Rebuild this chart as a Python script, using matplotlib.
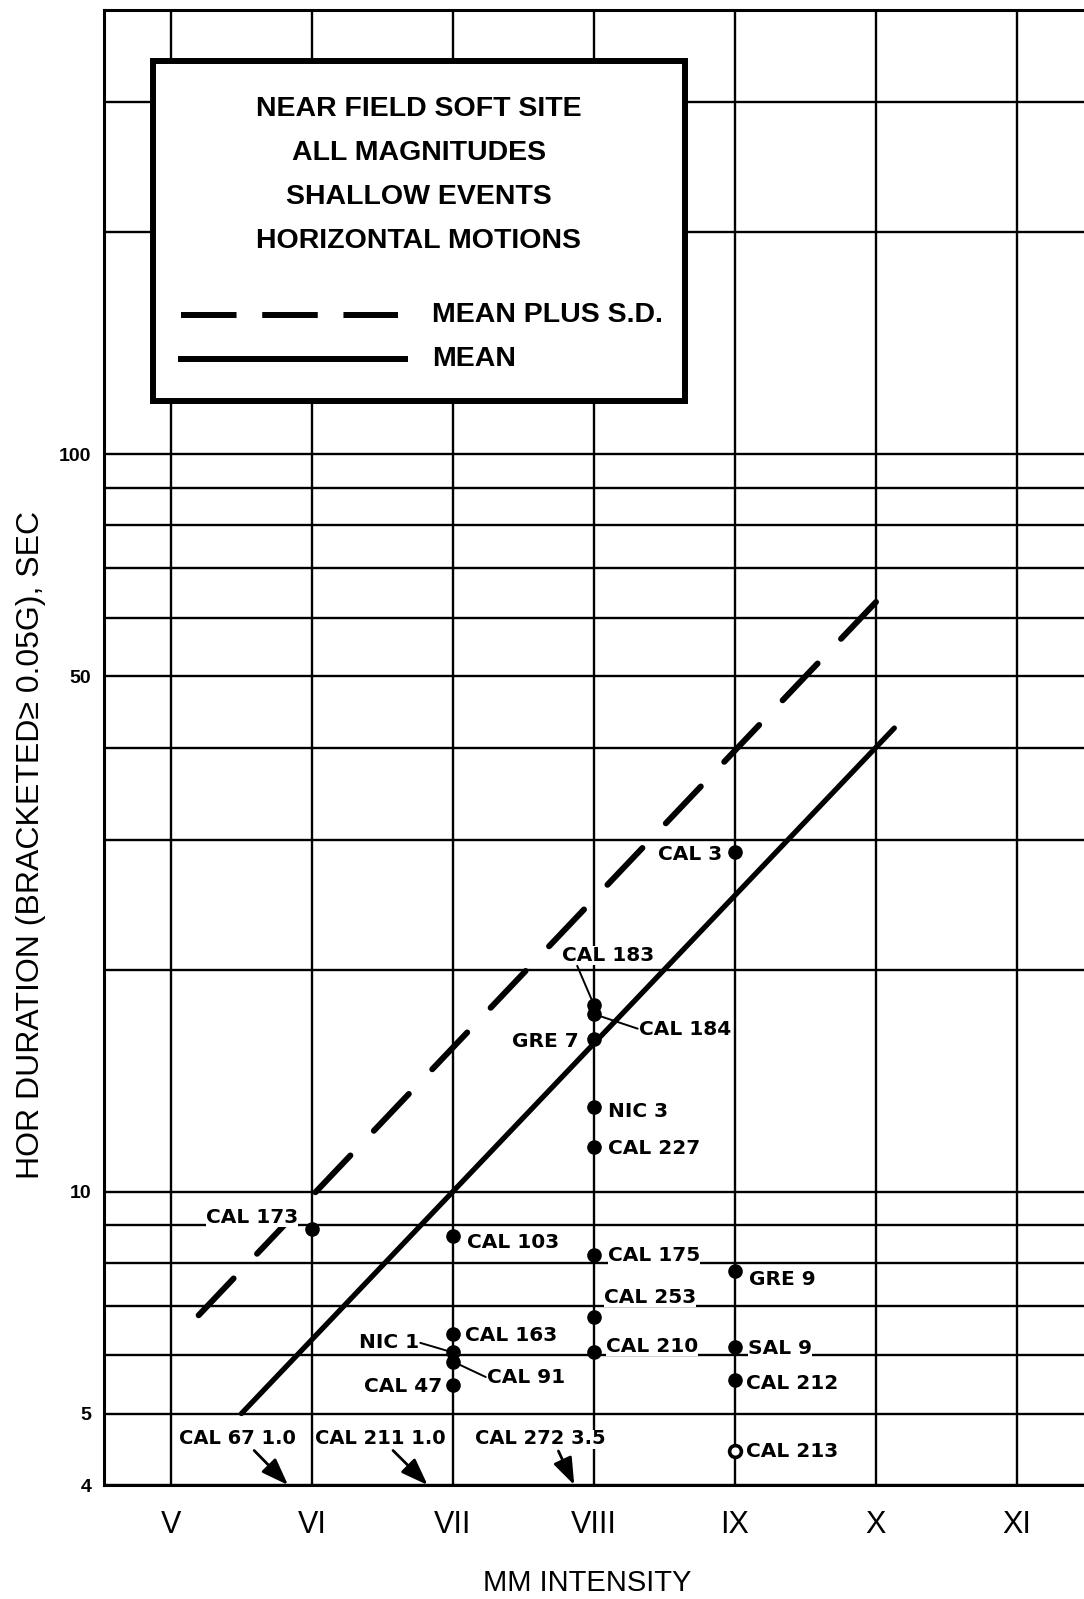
import numpy as np
import matplotlib
matplotlib.use("Agg")
import matplotlib.pyplot as plt
from matplotlib.lines import Line2D
from matplotlib.patches import Rectangle
from matplotlib.ticker import FixedLocator, FuncFormatter

# MM intensity axis
roman = ["V", "VI", "VII", "VIII", "IX", "X", "XI"]
mmi_ticks = [5, 6, 7, 8, 9, 10, 11]

# recorded events: station, MM intensity, bracketed duration (sec)
names = ["CAL 173", "CAL 103", "CAL 163", "NIC 1", "CAL 91", "CAL 47",
         "CAL 183", "CAL 184", "GRE 7", "NIC 3", "CAL 227", "CAL 175",
         "CAL 253", "CAL 210", "CAL 3", "GRE 9", "SAL 9", "CAL 212", "CAL 213"]
mmi = [6, 7, 7, 7, 7, 7, 8, 8, 8, 8, 8, 8, 8, 8, 9, 9, 9, 9, 9]
dur = [8.9, 8.7, 6.4, 6.05, 5.88, 5.47, 17.9, 17.4, 16.1, 13.0, 11.5, 8.2,
       6.75, 6.05, 28.9, 7.8, 6.15, 5.55, 4.45]
open_marks = ["CAL 213"]

# events below the plotted range
low_names = ["CAL 67", "CAL 211", "CAL 272"]
low_mmi = [6, 7, 8]
low_dur = [1.0, 1.0, 3.5]

# fitted lines (end points)
mean_mmi = [5.5, 10.13]
mean_dur = [5.0, 42.5]
sd_mmi = [5.05, 10.0]
sd_dur = [6.35, 63.0]

# y grid / labelled ticks
grid_y = [4, 5, 6, 7, 8, 9, 10, 20, 30, 40, 50, 60, 70, 80, 90, 100, 200, 300]
label_y = [4, 5, 10, 50, 100]

plt.rcParams["font.family"] = ["DejaVu Sans"]
W, H = 1084, 1599
fig = plt.figure(figsize=(W / 100, H / 100), dpi=100)
ax = fig.add_axes([104 / W, 114 / H, 983.5 / W, 1475 / H])
ax.set_yscale("log")
ax.set_xlim(4.525, 11.5)
ax.set_ylim(4, 400)

ax.xaxis.set_major_locator(FixedLocator(mmi_ticks))
ax.set_xticklabels(roman, family=["Liberation Sans", "DejaVu Sans"], fontsize=22)
ax.yaxis.set_major_locator(FixedLocator(grid_y))
ax.yaxis.set_minor_locator(FixedLocator([]))
ax.yaxis.set_major_formatter(FuncFormatter(lambda v, p: "%d" % v if round(v) in label_y else ""))
for t in ax.get_yticklabels():
    t.set_family(["Liberation Sans", "DejaVu Sans"])
    t.set_fontweight("bold")
    t.set_fontsize(14)
ax.tick_params(axis="x", length=0, pad=18)
ax.tick_params(axis="y", length=0, pad=9)
ax.grid(True, which="major", color="black", lw=1.7)
ax.set_axisbelow(True)
for s in ["left", "top", "bottom"]:
    ax.spines[s].set_linewidth(2.2)
ax.spines["right"].set_visible(False)

# mean and mean + s.d. lines
ax.plot(mean_mmi, mean_dur, color="black", lw=3.8, solid_capstyle="round", zorder=3)
ax.plot(sd_mmi[::-1], sd_dur[::-1], color="black", lw=4.3, dashes=(8.5, 5.7),
        dash_capstyle="round", zorder=3)

# data points
for n, x, y in zip(names, mmi, dur):
    if n in open_marks:
        ax.plot(x, y, "o", ms=8.5, mfc="white", mec="black", mew=2.6, zorder=6)
    else:
        ax.plot(x, y, "o", ms=9.5, color="black", zorder=6)

# label placement: dx, dy (pixels), alignment, leader anchor on text box
lay = {
    "CAL 173": (-14, 11, "right", None),
    "CAL 103": (14, -6, "left", None),
    "CAL 163": (12, -1, "left", None),
    "NIC 1": (-34, 10, "right", (1.0, 0.5)),
    "CAL 91": (34, -16, "left", (0.0, 0.5)),
    "CAL 47": (-11, -2, "right", None),
    "CAL 183": (14, 50, "center", (0.16, 0.0)),
    "CAL 184": (45, -15, "left", (0.0, 0.5)),
    "GRE 7": (-15, -3, "right", None),
    "NIC 3": (14, -4, "left", None),
    "CAL 227": (14, -2, "left", None),
    "CAL 175": (14, 0, "left", None),
    "CAL 253": (10, 20, "left", None),
    "CAL 210": (12, 6, "left", None),
    "CAL 3": (-13, -3, "right", None),
    "GRE 9": (14, -8, "left", None),
    "SAL 9": (13, -1, "left", None),
    "CAL 212": (11, -3, "left", None),
    "CAL 213": (11, -1, "left", None),
}
txt = dict(fontsize=14.5, fontweight="bold", va="center",
           bbox=dict(boxstyle="square,pad=0.0", fc="white", ec="none"))
for n, x, y in zip(names, mmi, dur):
    dx, dy, ha, rp = lay[n]
    kw = dict(txt, ha=ha)
    if rp is not None:
        kw["arrowprops"] = dict(arrowstyle="-", lw=1.4, color="black",
                                relpos=rp, shrinkA=1, shrinkB=5)
    ax.annotate(n, (x, y), xytext=(dx, dy), textcoords="offset pixels", zorder=5, **kw)

# off-scale events shown with arrows at the bottom edge
low_lay = {"CAL 67": (-0.17, -51, 0.63), "CAL 211": (-0.18, -47, 0.58),
           "CAL 272": (-0.14, -34, 0.63)}
for n, x, d in zip(low_names, low_mmi, low_dur):
    off, dx, rx = low_lay[n]
    ax.annotate("%s %.1f" % (n, d), (x + off, 4.0), xytext=(dx, 46),
                textcoords="offset pixels", ha="center", va="center",
                fontsize=14, fontweight="bold", annotation_clip=False, zorder=5,
                bbox=dict(boxstyle="square,pad=0.0", fc="white", ec="none"),
                arrowprops=dict(arrowstyle="-|>,head_length=1.1,head_width=0.4",
                                mutation_scale=15, lw=2.0, color="black",
                                relpos=(rx, 0.0), shrinkA=2, shrinkB=0))

# axis titles
fig.text(31 / W, 1 - 845 / H, "HOR DURATION (BRACKETED\u2265 0.05G), SEC", rotation=90,
         ha="center", va="center", fontsize=23, family=["Liberation Sans", "DejaVu Sans"])
fig.text(587 / W, 1 - 1583 / H, "MM INTENSITY", ha="center", va="center",
         fontsize=21, family=["Liberation Sans", "DejaVu Sans"])

# legend box
def fx(px):
    return px / W

def fy(py):
    return 1 - py / H

fig.add_artist(Rectangle((fx(153), fy(401)), fx(685) - fx(153), fy(61) - fy(401),
                         transform=fig.transFigure, fc="white", ec="black", lw=4.3, zorder=1))
leg_font = dict(fontsize=20.5, fontweight="bold", family=["Liberation Sans", "DejaVu Sans"])
for i, line in enumerate(["NEAR FIELD SOFT SITE", "ALL MAGNITUDES", "SHALLOW EVENTS",
                          "HORIZONTAL MOTIONS"]):
    fig.text(fx(419), fy(109 + i * 44), line, ha="center", va="center", zorder=3, **leg_font)
fig.add_artist(Line2D([fx(181), fx(398)], [fy(315), fy(315)], transform=fig.transFigure,
                      color="black", lw=4.3, dashes=(9.3, 4.3), dash_capstyle="butt", zorder=2))
fig.add_artist(Line2D([fx(181), fx(405)], [fy(359), fy(359)], transform=fig.transFigure,
                      color="black", lw=4.3, zorder=2))
fig.text(fx(432), fy(315), "MEAN PLUS S.D.", ha="left", va="center", zorder=3, **leg_font)
fig.text(fx(432), fy(359), "MEAN", ha="left", va="center", zorder=3, **leg_font)

fig.savefig("out.png", dpi=100, facecolor="white")
